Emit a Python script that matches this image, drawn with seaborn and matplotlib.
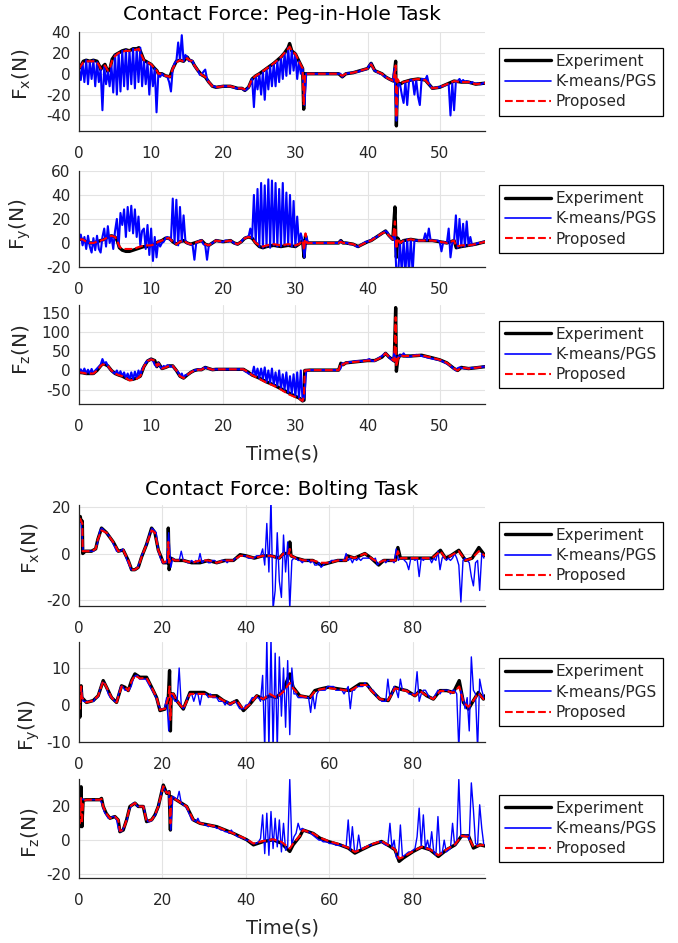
import numpy as np
import matplotlib
matplotlib.use("Agg")
import matplotlib.pyplot as plt
import seaborn as sns

# ---------------- data: Peg-in-Hole task ----------------
PEG_T_FX = [0, 0.3, 0.6, 1.0, 1.5, 2.0, 2.5, 2.8, 3.0, 3.3, 3.6, 4.0, 4.3, 4.6, 5.0,
            5.5, 6.0, 6.5, 7.0, 7.5, 8.0, 8.3, 8.6, 9.0, 9.5, 10.0, 10.5, 10.8, 11.0, 11.5,
            12.0, 12.6, 13.0, 13.5, 14.0, 14.5, 15.0, 15.3, 15.7, 16.0, 16.5, 17.0, 17.5, 18.0, 18.5,
            19.0, 20.0, 21.0, 22.0, 22.6, 23.0, 23.5, 24.0, 24.5, 25.0, 26.0, 27.0, 28.0, 28.5, 29.0,
            29.2, 29.5, 30.0, 30.5, 31.0, 31.15, 31.35, 32.0, 36.0, 36.5, 37.0, 38.0, 39.0, 40.0, 40.5,
            41.0, 42.0, 42.5, 43.0, 43.6, 43.9, 44.0, 44.15, 44.5, 45.0, 46.0, 47.0, 48.0, 48.5, 49.0,
            50.0, 51.0, 52.0, 53.0, 54.0, 55.0, 56.3]
PEG_EXP_FX = [5, 8, 12, 13, 12, 13, 12, 8, 4, 7, 9, 2, 5, 14, 18,
              20, 22, 23, 22, 24, 24, 25, 20, 13, 11, 9, 5, 3, 0, 0,
              -2, -3, 5, 12, 13, 12, 16, 13, 12, 8, 3, -1, -3, -8, -12,
              -13, -12, -12, -14, -14, -16, -13, -5, -2, 0, 5, 10, 16, 20, 25,
              29, 22, 19, 12, 5, -34, 0, 0, 0, -3, 0, 1, 3, 5, 10,
              3, 0, -3, -5, -7, 12, -50, -8, -10, -8, -6, -5, -6, -10, -14,
              -13, -10, -7, -8, -8, -10, -9]
PEG_PROP_FX = [5, 8, 11, 12, 12, 12, 11, 8, 5, 7, 8, 3, 6, 13, 17,
               20, 21, 22, 22, 23, 23, 24, 19, 13, 11, 9, 5, 3, 0, 0,
               -2, -3, 5, 11, 13, 12, 15, 13, 12, 8, 3, -1, -3, -8, -12,
               -13, -12, -12, -14, -14, -15, -13, -5, -2, 0, 5, 10, 16, 20, 24,
               26, 22, 19, 12, 5, -30, 0, 0, 0, -2, 0, 1, 3, 5, 9,
               3, 0, -3, -5, -7, 8, -42, -5, -9, -8, -6, -5, -6, -10, -14,
               -13, -10, -7, -8, -8, -10, -9]
# K-means/PGS sampled every 0.25 s
PEG_KM_FX = [5, -6, 10, -8, 13, -10, 12, -5, 13, -12, 11, -8, 4, -35, 7, -10,
             2, -12, 8, -18, 18, -20, 20, -17, 22, -12, 23, -15, 22, -10, 24, -14,
             24, -8, 25, -12, 13, -10, 11, -20, 9, -12, 5, -37, 0, -3, 0, -2,
             -2, -3, -8, -17, 5, 10, 12, 30, 13, 37, 12, 18, 16, 12, 13, 12,
             8, 5, 3, -1, -1, 2, 4, -5, -8, -10, -12, -12, -13, -13, -12, -12,
             -12, -12, -12, -12, -12, -13, -13, -14, -14, -14, -14, -15, -16, -15, -13, -10,
             -5, -32, -2, -15, 0, -20, 2, -25, 5, -15, 7, -12, 10, -12, 12, -8,
             16, -5, 20, -2, 25, 0, 22, 3, 19, -5, 12, 0, 5, -30, 0, 0,
             0, 0, 0, 0, 0, 0, 0, 0, 0, 0, 0, 0, 0, 0, 0, 0,
             0, 0, -3, -1, 0, 0.5, 0.5, 1, 1, 1.5, 2, 2, 3, 3, 4, 4,
             5, 8, 10, 5, 3, 2, 1, 0, 0, -2, -3, -4, -5, -6, -7, 5,
             -45, -10, -10, -20, -28, -8, -30, -7, -6, -6, -20, -6, -22, -30, -5, -5,
             -6, -2, -10, -12, -14, -14, -13, -13, -13, -12, -12, -11, -10, -10, -40, -9,
             -35, -7, -7, -5, -8, -6, -8, -7, -8, -9, -8, -9, -10, -9, -10, -10,
             -9, -9]

PEG_T_FY = [0, 0.5, 1, 1.5, 2, 2.5, 3, 3.5, 4, 4.5, 5, 5.3, 5.6, 6, 6.5,
            7, 7.5, 8, 8.5, 9, 9.5, 10, 10.5, 11, 11.5, 12, 12.5, 13, 13.5, 14,
            14.5, 15, 15.5, 16, 17, 17.5, 18, 18.5, 19, 20, 21, 21.5, 22, 22.5, 23,
            23.5, 24, 24.5, 25, 25.5, 26, 27, 28, 29, 30, 30.5, 31, 31.2, 31.4, 31.6,
            32, 36, 36.3, 36.6, 37, 38, 38.7, 39, 40, 40.5, 41, 41.5, 42, 42.5, 43,
            43.5, 43.8, 44, 44.2, 44.5, 45, 46, 47, 48, 49, 50, 51, 52, 52.3, 53,
            54, 55, 56.3]
PEG_EXP_FY = [3, 3, 1, 0, 0, 1, 2, 3, 5, 6, 5, 2, -4, -6, -7,
              -7, -6, -5, -4, -3, -3, -2, -1, 1, 2, 4, 4, 1, -1, 1,
              2, 0, -1, 0, 2, -1, -2, 0, 2, 1, 2, 0, -1, 1, 4,
              5, 4, 0, -3, -4, -3, -2, -3, -2, -3, -1, 2, -12, 6, 0,
              0, 0, 2, 0, 0, -1, -3, -2, 1, 2, 4, 6, 8, 10, 6,
              3, 30, -12, 4, 0, 2, 3, 2, 2, 2, 1, 0, 2, -4, -3,
              -2, -1, 1]
PEG_PROP_FY = [3, 3, 1, 0, 0, 1, 2, 3, 5, 6, 5, 2, -3, -5, -5,
               -5, -5, -4, -3, -2, -2, -2, -1, 1, 2, 4, 4, 1, -1, 1,
               2, 0, -1, 0, 2, -1, -2, 0, 2, 1, 2, 0, -1, 1, 4,
               5, 4, 0, -2, -3, -2, -1, -2, -1, -2, -1, 2, -6, 8, 0,
               0, 0, 1, 0, 0, -1, -3, -2, 1, 2, 4, 6, 8, 9, 6,
               3, 18, -5, 4, 0, 2, 3, 2, 2, 2, 1, 0, 2, -3, -2,
               -2, -1, 1]
PEG_KM_FY = [3, 7, -2, 5, -5, 6, -3, -8, 4, -6, 6, -5, -8, 5, 12, -3,
             14, 0, 6, -5, 10, 20, -3, 25, 15, 28, 5, 30, 10, 31, 8, 28,
             5, 22, -2, 10, 12, -5, 15, -10, 12, -15, 5, -12, 2, -3, 0, 1,
             4, 5, 3, 2, 37, 0, 36, -2, 30, 1, 23, 2, 0, -1, -1, -2,
             -14, 0, 1, 2, 2, -1, -2, -14, -2, -1, 0, 1, 2, 2, 1, 1,
             1, 2, 2, 1, 2, 1, 0, -1, -1, 0, 1, 3, 4, 5, 5, 12,
             4, 40, 0, 45, -3, 50, -4, 48, -3, 53, -4, 52, -2, 50, -3, 45,
             -3, 50, -2, 42, -2, 40, -3, 35, -3, 22, -1, 8, 2, -12, 6, 0,
             0, 0, 0, 0, 0, 0, 0, 0, 0, 0, 0, 0, 0, 0, 0, 0,
             0, 2, 0, 0, 0, 0, -1, -1, -1, -2, -3, -3, -2, -1, 0, 1,
             1, 2, 2, 4, 4, 5, 6, 7, 8, 9, 10, 9, 6, 4, 3, 10,
             -25, -25, 0, -25, 2, -25, 3, -25, 3, -25, 2, 2, 2, 2, 2, 2,
             8, 2, 12, 2, 2, 2, 2, 2, 1, -7, 1, 0, 0, 12, -12, 0,
             2, 23, -4, 20, -3, 16, -3, 18, -2, 5, -2, -1, -1, 0, 0, 0,
             1, 1]

PEG_T_FZ = [0, 0.5, 1, 1.5, 2, 2.5, 3, 3.3, 3.7, 4, 4.5, 5, 5.5, 6, 6.5,
            7, 7.5, 8, 8.5, 9, 9.5, 10, 10.5, 10.8, 11, 11.5, 12, 12.5, 13, 13.5,
            14, 14.5, 15, 15.5, 16, 16.5, 17, 17.5, 18, 18.5, 19, 21, 22.8, 23.5, 24,
            25, 26, 27, 28, 29, 30, 30.5, 31, 31.2, 31.3, 32, 36, 36.3, 36.6, 37,
            38, 39, 40, 41, 42, 42.5, 43, 43.7, 43.9, 44, 44.2, 44.5, 45, 46, 47.5,
            49, 50, 51, 52, 52.5, 53, 54, 55, 56.3]
PEG_EXP_FZ = [-5, -6, -8, -8, -8, 0, 12, 18, 15, 12, 0, -8, -12, -15, -20,
              -24, -23, -20, -15, 10, 25, 30, 26, 10, 20, 5, 8, 12, 12, 0,
              -15, -20, -12, -5, 0, 2, 2, 8, 5, 2, 3, 3, 3, -5, -12,
              -20, -30, -38, -48, -58, -68, -72, -80, -78, 0, 1, 1, 19, 15, 20,
              22, 24, 26, 26, 35, 45, 35, 25, 165, -2, 30, 40, 38, 38, 40,
              33, 28, 20, 5, 0, 8, 5, 7, 10]
PEG_PROP_FZ = [-5, -6, -8, -8, -8, 0, 12, 16, 15, 12, 0, -8, -12, -15, -20,
               -26, -25, -22, -15, 10, 25, 29, 26, 12, 18, 5, 8, 12, 12, 0,
               -15, -20, -12, -5, 0, 2, 2, 8, 5, 2, 3, 3, 3, -5, -12,
               -22, -32, -40, -50, -62, -70, -74, -80, -60, 0, 1, 1, 19, 15, 20,
               22, 24, 26, 26, 35, 45, 35, 25, 140, 10, 30, 40, 38, 38, 40,
               33, 28, 20, 5, 0, 8, 5, 7, 10]
PEG_KM_FZ = [-5, 3, -6, 5, -8, 2, -8, 4, -8, 0, 5, 10, 15, 30, 18, 22,
             12, 5, 0, -5, -8, 0, -12, -2, -15, -5, -20, -8, -24, -5, -23, -3,
             -20, 0, -15, 5, 10, 20, 25, 28, 30, 26, 15, 10, 20, 10, 5, 12,
             8, 14, 12, 10, 12, 5, 0, -5, -15, -8, -20, -12, -12, -8, -5, -2,
             0, 2, 2, 4, 2, 6, 8, 6, 5, 3, 2, 3, 3, 3, 3, 3,
             3, 3, 3, 3, 3, 3, 3, 3, 3, 3, 3, 3, -2, -4, -8, -10,
             -12, 10, -15, 5, -20, 5, -22, 8, -30, 0, -32, 5, -38, -5, -40, 0,
             -48, -10, -50, -5, -58, -15, -60, -10, -68, -5, -72, 0, -80, -70, 0, 0,
             1, 1, 1, 1, 1, 1, 1, 1, 1, 1, 1, 1, 1, 1, 1, 1,
             1, 5, 19, 17, 20, 21, 22, 22, 23, 24, 25, 25, 25, 24, 26, 27,
             28, 30, 26, 25, 25, 28, 32, 35, 38, 42, 45, 40, 35, 30, 26, 50,
             20, 35, 40, 38, 45, 38, 36, 37, 37, 38, 40, 41, 40, 40, 38, 37,
             36, 34, 33, 32, 31, 30, 29, 28, 27, 25, 23, 20, 18, 15, 12, 8,
             4, 0, 6, 8, 7, 6, 5, 6, 5, 6, 7, 6, 7, 8, 8, 9,
             10, 10]

# ---------------- data: Bolting task ----------------
BOLT_T_FX = [0, 0.3, 0.5, 0.8, 0.9, 1.5, 3, 4, 4.5, 5.4, 6.6, 8.2, 9.4, 10.6, 11.8,
             12.6, 13.4, 14.2, 15, 16.2, 17.4, 18.2, 19, 20.2, 21.3, 21.4, 21.6, 22, 23, 25,
             27, 29, 31, 33, 35, 37, 38.6, 40, 42, 44, 46, 48, 49, 50.3, 50.5,
             50.8, 52, 54, 56, 58, 60, 62, 64, 64.3, 66, 68.5, 70, 71.8, 73, 75.8,
             76.4, 77, 79, 81, 83, 84.6, 86.6, 87.8, 89, 91, 92.6, 94.2, 95.8, 97.3]
BOLT_EXP_FX = [15, 16, 14, 14, 0, 1, 1, 2, 6, 11, 9, 5, 1, 1.5, -3,
               -7, -7, -6, -1.5, 4, 11, 9, 1.5, -4, -4, 11, -7, -2, -3, -3,
               -4, -4, -3, -4, -3, -3, -0.5, -1, -2, -1, -1, -2, 0, 0, 5,
               -1, -2, -3, -3, -5, -4, -3, -3, -1, -2, 0, -2, -5, -3, -3,
               2.6, -2, -2, -2, -2, -2, 1.4, -2, -1, 1.4, -3, -2, 2.6, -1]
BOLT_PROP_FX = [15, 15, 14, 13, 1, 1, 1, 2, 6, 10, 9, 5, 1, 1.5, -3,
                -7, -7, -6, -1.5, 4, 10, 9, 1.5, -4, -3, 5, -4, -2, -3, -3,
                -4, -3, -3, -4, -3, -3, -1, -1, -2, -1, -1, -2, 0, 0, 2,
                -1, -2, -3, -3, -4, -4, -3, -3, -1, -2, 0, -2, -4, -3, -3,
                1, -2, -2, -2, -2, -2, 1, -2, -1, 1, -3, -2, 1, -1]
# K-means/PGS sampled every 0.5 s
BOLT_KM_FX = [15, 14, 1, 1, 1, 1, 1, 1, 2, 5,
              10, 11, 10, 9, 8, 7, 5, 3, 1, 1,
              1, 2, 0, -3, -5, -7, -7, -7, -6, -4,
              -1, 1, 3, 6, 9, 11, 10, 9, 1, -2,
              -4, -4, -4, 9, -6, -2, -3, -3, -3, 1,
              -3, -3, -4, -4, -3, -4, -3, -4, 0, -4,
              -3, -3, -4, -4, -3, -3, -4, -4, -3, -3,
              -3, -4, -3, -3, -3, -2, -2, -1, -1, -1,
              -1, -2, -2, -2, -2, -1, -1, -1, 2, -5,
              13, -8, 24, -24, -16, 9, -12, -19, 8, -8,
              5, -24, -3, -2, -2, -3, -3, -4, -3, -3,
              -3, -4, -3, -5, -5, -4, -6, -5, -4, -4,
              -4, -3, -3, -3, -3, -3, -3, -3, 0, -3,
              -2, -4, -2, -3, -2, -3, -2, -2, -2, -2,
              -2, -3, -2, -5, -4, -3, -3, -4, -3, -3,
              -3, -4, 2, -3, -2, -2, -3, -4, -7, -2,
              -2, -3, -2, -10, -2, -3, -2, -2, -2, -4,
              -2, -3, 1, -7, -2, -1, -3, -2, -3, -2,
              0, -2, -5, -21, -3, -2, -3, -4, -10, -14,
              -4, -3, -16, 0, -2]

BOLT_T_FY = [0, 0.2, 0.5, 0.7, 1.8, 3.4, 4.6, 5.8, 6.6, 7.8, 9, 10.2, 11, 11.8, 12.6,
             13.4, 14.6, 16.2, 17.4, 18.6, 19.4, 20.6, 21.4, 21.7, 21.9, 22.1, 22.6, 23.4, 25, 26.6,
             28, 30, 31.4, 33, 34.6, 36.2, 37.8, 39.4, 41, 42.6, 44.2, 45.7, 47.3, 48.9, 50.5,
             51.3, 52.9, 55.3, 56.5, 57.7, 59.7, 62.5, 64.9, 67.3, 68.9, 70.1, 72.1, 74.1, 75.7, 76.9,
             78.5, 80.5, 81.7, 83.3, 84.9, 86.5, 88.1, 89.7, 91.1, 92.1, 93.3, 94.5, 95.7, 96.9, 97.3]
BOLT_EXP_FY = [3.4, -3.3, 5.2, 2, 0.7, 1.2, 2.5, 6.6, 4.8, 2, 0.7, 5.2, 4.8, 3.9, 6.6,
               8.4, 7.5, 7.5, 4.8, 2, -1.5, -1.1, 2, 9.3, -7, 3, 3, 1.2, -1.1, 3.4,
               3.4, 3.4, 2.5, 2.5, 1.2, 0.3, 1.2, -1.5, 0.3, 2.5, 1.6, 2.5, 2, 3.9, 8.4,
               4.8, 2.5, 2, 3.9, 4.3, 4.8, 4.3, 3.9, 5.7, 5.7, 3.9, 1.6, 1.2, 4.8, 4.3,
               3.9, 2.5, 3.9, 2.5, 1.6, 3.9, 3.9, 3.4, 6.6, 0.7, -1.1, 1.2, 3.4, 1.6, 2.5]
BOLT_PROP_FY = [3.4, -1, 5, 2, 0.7, 1.2, 2.5, 6.5, 4.8, 2, 0.7, 5, 4.8, 3.9, 6.5,
                8, 7.2, 7.3, 4.8, 2, -1.3, -1, 2, 5, -4, 3, 3, 1.2, -1, 3,
                3, 3, 2.3, 2.3, 1.2, 0.3, 1.2, -1.3, 0.3, 2.5, 1.6, 3, 2, 3.5, 6,
                4.5, 2.5, 2, 3.7, 4.2, 4.6, 4.2, 3.8, 5.4, 5.4, 3.8, 1.6, 1.3, 4.5, 4.2,
                3.8, 2.5, 3.8, 2.5, 1.6, 3.8, 3.8, 3.3, 5, 0.8, -0.5, 1.2, 3.2, 1.6, 2.5]
BOLT_KM_FY = [3, 5, 1, 1, 1, 1, 1, 1, 2, 2,
              4, 6, 6, 5, 3, 2, 2, 1, 1, 3,
              5, 5, 4, 4, 4, 5, 7, 8, 8, 7,
              7, 7, 7, 6, 5, 4, 3, 2, 0, -1,
              -1, -1, 2, -7, 3, 2, 1, 1, 10, 0,
              -1, 0, 2, 3, 3, 1, 3, 3, 0, 3,
              3, 3, 2, 3, 2, 2, 2, 1, 1, 1,
              0, 1, 0, 0, 1, 1, 0, -1, -1, -1,
              0, 0, 1, 2, 2, 2, 2, 1, 8, -12,
              18, -12, 18, -12, 14, -12, 13, -3, 10, -6,
              12, -8, 10, 3, 3, 2, 2, 2, 2, 2,
              2, -2, 3, -1, 3, 4, 4, 4, 4, 5,
              5, 5, 5, 4, 4, 4, 4, 3, 4, 5,
              -1, 4, 4, 5, 5, 5, 5, 6, 5, 5,
              4, 4, 3, 2, 2, 1, 1, 1, 7, 2,
              3, 5, 4, 2, 7, 4, 4, 4, 3, 3,
              3, 3, 9, 1, 3, 4, 4, 3, 2, 2,
              2, 3, 4, 3, 4, 4, 4, 4, 3, 4,
              4, 3, -12, 4, 2, -1, 2, -7, 13, 4,
              3, -12, 7, 4, 2]

BOLT_T_FZ = [0, 0.2, 0.5, 0.7, 1, 1.8, 5, 5.4, 5.8, 6.5, 7.4, 8.6, 9.4, 9.8, 10.6,
             11.4, 12.2, 13.4, 14.2, 15.4, 16.2, 17.4, 18.2, 19, 20.2, 21, 21.6, 21.9, 22.1, 23.4,
             25.8, 27.4, 29, 33, 37, 40.2, 41.8, 44.2, 46.5, 48.5, 50.5, 51.3, 52.9, 53.7, 56.1,
             57.7, 59.7, 62.5, 64.5, 66.1, 67.7, 70.1, 72.5, 74.5, 75.7, 76.7, 77.7, 80.1, 82.1, 84.1,
             86.1, 88.1, 90.1, 91.7, 93.3, 94.5, 96.1, 97.3]
BOLT_EXP_FZ = [12, 8, 31.7, 8, 23.8, 24, 24, 24.8, 20, 16, 13, 14, 12, 5, 6,
               12, 20, 22, 20, 20, 11, 12, 15, 20, 32.7, 27.8, 28.8, 6, 25.8, 23.8,
               20, 12, 10, 8, 4, 0.2, -2.8, -0.8, 0.2, -1.8, -6.7, -2.8, 2.2, 6, 4,
               1.2, -0.8, -2.8, -4.7, -7.7, -5.7, -2.8, -0.8, -3.7, -5.7, -12.6, -10.6, -6.7, -4.1, -5.7,
               -9.7, -5.7, -2.8, 2.6, 2.6, -4.7, -2.8, -3.5]
BOLT_PROP_FZ = [12, 10, 25, 10, 23, 24, 24, 24.5, 20, 16, 13, 14, 12, 5.5, 6,
                12, 20, 22, 20, 20, 11, 12, 15, 20, 32, 28, 28.5, 10, 25.5, 23.8,
                20, 12, 10, 8, 4, 0.5, -2, -0.5, 0.5, -1, -5, -2, 2.5, 6, 4,
                1.5, -0.5, -2.5, -4.5, -7, -5.5, -2.5, -0.5, -3.5, -5.5, -11, -10, -6.5, -4, -5.5,
                -9, -5.5, -2.5, 2.5, 2, -4, -3, -3]
BOLT_KM_FZ = [12, 25, 24, 24, 24, 24, 24, 24, 24, 24,
              24, 22, 17, 15, 13, 13, 14, 14, 12, 6,
              5, 6, 9, 12, 18, 20, 22, 22, 20, 20,
              20, 20, 14, 11, 11, 12, 14, 16, 20, 25,
              32, 30, 28, 29, 6, 26, 25, 24, 29, 22,
              21, 20, 18, 15, 12, 12, 11, 13, 10, 10,
              9, 9, 8, 9, 8, 8, 7, 7, 6, 6,
              5, 5, 4, 6, 4, 3, 2, 2, 1, 1,
              0, 0, -1, -2, -2, -2, -1, 1, 15, -8,
              16, -9, 17, -5, 13, -4, 12, -7, 10, -6,
              -4, 36, -3, 2, 4, 10, 6, 7, 6, 5,
              5, 4, 3, 2, 1, 0, 0, -1, -1, -1,
              -2, -2, -2, -3, -3, -3, -3, -4, -4, 12,
              -6, 8, -6, -7, 3, -5, -5, -4, -4, -3,
              -3, -2, -2, -1, -1, -1, -2, -3, -3, 10,
              -5, 0, -10, -11, 9, -10, -9, -8, -7, -7,
              -6, -5, 2, 19, -4, 15, -5, 0, -6, 5,
              -7, -9, 14, -8, -8, 0, -7, -6, -5, 10,
              -3, -2, 36, 2, 2, 3, 3, 0, 34, 18,
              -2, -3, 21, 7, -3]

PEG_XTICKS = [0, 10, 20, 30, 40, 50]
BOLT_XTICKS = [0, 20, 40, 60, 80]
SERIES_NAMES = ["Experiment", "K-means/PGS", "Proposed"]
TITLES = ["Contact Force: Peg-in-Hole Task", "Contact Force: Bolting Task"]
YLABELS = [r"$\mathregular{F_x(N)}$", r"$\mathregular{F_y(N)}$", r"$\mathregular{F_z(N)}$"]

# ---------------- styling ----------------
sns.set_theme(style="white")
plt.rcParams["font.family"] = ["DejaVu Sans"]
plt.rcParams["axes.unicode_minus"] = False
TXT = "#262626"

fig = plt.figure(figsize=(6.78, 9.43), dpi=100)

panels = [
    ([0.1165, 0.861, 0.599, 0.105], PEG_T_FX, PEG_EXP_FX, PEG_PROP_FX, PEG_KM_FX, 0.25, 1.5,
     (0, 56.3), (-55, 40), [-40, -20, 0, 20, 40], YLABELS[0], (-0.113, 0.58), TITLES[0], 9, False, PEG_XTICKS),
    ([0.1165, 0.7169, 0.599, 0.1018], PEG_T_FY, PEG_EXP_FY, PEG_PROP_FY, PEG_KM_FY, 0.25, 1.5,
     (0, 56.3), (-20, 60), [-20, 0, 20, 40, 60], YLABELS[1], (-0.113, 0.45), None, 0, False, PEG_XTICKS),
    ([0.1165, 0.5716, 0.599, 0.105], PEG_T_FZ, PEG_EXP_FZ, PEG_PROP_FZ, PEG_KM_FZ, 0.25, 1.5,
     (0, 56.3), (-88, 172), [-50, 0, 50, 100, 150], YLABELS[2], (-0.113, 0.545), None, 0, True, PEG_XTICKS),
    ([0.1165, 0.3574, 0.599, 0.1071], BOLT_T_FX, BOLT_EXP_FX, BOLT_PROP_FX, BOLT_KM_FX, 0.5, 1.0,
     (0, 97.3), (-22.7, 21), [-20, 0, 20], YLABELS[0], (-0.092, 0.57), TITLES[1], 7, False, BOLT_XTICKS),
    ([0.1165, 0.2131, 0.599, 0.106], BOLT_T_FY, BOLT_EXP_FY, BOLT_PROP_FY, BOLT_KM_FY, 0.5, 1.0,
     (0, 97.3), (-10, 17), [-10, 0, 10], YLABELS[1], (-0.092, 0.17), None, 0, False, BOLT_XTICKS),
    ([0.1165, 0.0689, 0.599, 0.105], BOLT_T_FZ, BOLT_EXP_FZ, BOLT_PROP_FZ, BOLT_KM_FZ, 0.5, 1.0,
     (0, 97.3), (-22.5, 36.3), [-20, 0, 20], YLABELS[2], (-0.092, 0.455), None, 0, True, BOLT_XTICKS),
]

for (rect, t, exp, prop, km, dt, km_lw, xlim, ylim, yticks, ylab, ylab_xy,
     title, tpad, xlab, xticks) in panels:
    ax = fig.add_axes(rect)
    t_km = np.arange(len(km)) * dt
    sns.lineplot(x=t, y=exp, ax=ax, color="black", linewidth=2.4,
                 label=SERIES_NAMES[0], estimator=None, sort=False)
    sns.lineplot(x=t_km, y=km, ax=ax, color="blue", linewidth=km_lw,
                 label=SERIES_NAMES[1], estimator=None, sort=False)
    sns.lineplot(x=t, y=prop, ax=ax, color="red", linewidth=1.5, linestyle="--",
                 label=SERIES_NAMES[2], estimator=None, sort=False)
    ax.set_xlim(*xlim)
    ax.set_ylim(*ylim)
    ax.set_xticks(xticks)
    ax.set_yticks(yticks)
    ax.grid(True, color="#e3e3e3", linewidth=0.8)
    ax.set_axisbelow(True)
    for s in ["top", "right"]:
        ax.spines[s].set_visible(False)
    for s in ["left", "bottom"]:
        ax.spines[s].set_color(TXT)
        ax.spines[s].set_linewidth(0.9)
    ax.tick_params(direction="in", length=3.5, width=0.8, colors=TXT, labelsize=11)
    ax.tick_params(axis="x", pad=11)
    ax.tick_params(axis="y", pad=6)
    ax.set_ylabel(ylab, fontsize=14.5, color=TXT)
    ax.yaxis.set_label_coords(*ylab_xy)
    if xlab:
        ax.set_xlabel("Time(s)", fontsize=14, color=TXT)
        ax.xaxis.set_label_coords(0.5, -0.41)
    else:
        ax.set_xlabel("")
    if title:
        ax.set_title(title, fontsize=14.5, color="black", pad=tpad)
    leg = ax.legend(loc="center left", bbox_to_anchor=(1.034, 0.5), borderaxespad=0,
                    frameon=True, fancybox=False, framealpha=1, edgecolor="black",
                    fontsize=11, handlelength=3.0, handletextpad=0.3,
                    borderpad=0.4, labelspacing=0.35)
    leg.get_frame().set_linewidth(0.9)
    for line in leg.get_lines():
        if line.get_color() == "blue":
            line.set_linewidth(1.2)
    for txt in leg.get_texts():
        txt.set_color(TXT)

fig.savefig("out.png", dpi=100)
